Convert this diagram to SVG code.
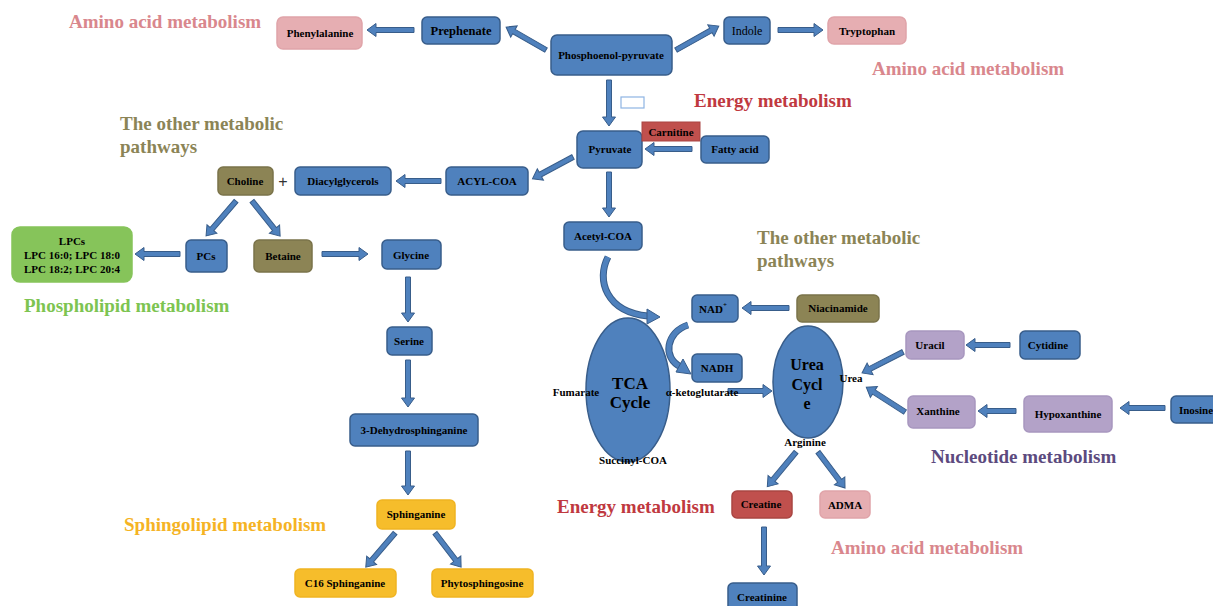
<svg xmlns="http://www.w3.org/2000/svg" width="1213" height="606" viewBox="0 0 1213 606">
<style>
.n{stroke-width:1.5;}
.b{fill:#4f81bd;stroke:#385d8a;}
.pk{fill:#e6aeb2;stroke:#e0a4a9;}
.ol{fill:#8c8455;stroke:#7a734a;}
.gr{fill:#86c45a;stroke:#86c45a;}
.ye{fill:#f6bd2b;stroke:#f0b422;}
.pu{fill:#b3a2c8;stroke:#a897bf;}
.rd{fill:#c0504d;stroke:#a94542;}
.t{font-family:"Liberation Serif","Times New Roman",serif;font-weight:bold;font-size:11px;fill:#000;text-anchor:middle;dominant-baseline:central;}
.lab{font-family:"Liberation Serif","Times New Roman",serif;font-weight:bold;font-size:19px;}
.a{fill:#4f81bd;stroke:#385d8a;stroke-width:1;}
.cs{fill:none;stroke:#385d8a;stroke-width:7;}
.ci{fill:none;stroke:#4f81bd;stroke-width:5;}
</style>

<!-- labels -->
<g id="labels">
<text class="lab" x="69" y="28" fill="#d9878d">Amino acid metabolism</text>
<text class="lab" x="872" y="75" fill="#d9878d">Amino acid metabolism</text>
<text class="lab" x="831" y="554" fill="#d9878d">Amino acid metabolism</text>
<text class="lab" x="694" y="107" fill="#c0393f">Energy metabolism</text>
<text class="lab" x="557" y="513" fill="#c0393f">Energy metabolism</text>
<text class="lab" x="120" y="130" fill="#8b8456">The other metabolic</text>
<text class="lab" x="120" y="153" fill="#8b8456">pathways</text>
<text class="lab" x="757" y="244" fill="#8b8456">The other metabolic</text>
<text class="lab" x="757" y="267" fill="#8b8456">pathways</text>
<text class="lab" x="24" y="312" fill="#7dc451">Phospholipid metabolism</text>
<text class="lab" x="124" y="531" fill="#f5b324">Sphingolipid metabolism</text>
<text class="lab" x="931" y="463" fill="#5c4a7e">Nucleotide metabolism</text>
<rect x="621" y="97" width="23" height="11" fill="none" stroke="#8eb4e3" stroke-width="1.2"/>
</g>

<!-- connectors -->
<g id="connectors">
<path class="a" transform="translate(546,50) rotate(209.9)" d="M0,-2.5 H37 V-6.5 L46,0 L37,6.5 V2.5 H0 Z"/>
<path class="a" transform="translate(414,30) rotate(180)" d="M0,-2.5 H38 V-6.5 L47,0 L38,6.5 V2.5 H0 Z"/>
<path class="a" transform="translate(676,50) rotate(-29.2)" d="M0,-2.5 H40 V-6.5 L49,0 L40,6.5 V2.5 H0 Z"/>
<path class="a" transform="translate(778,30)" d="M0,-2.5 H36 V-6.5 L45,0 L36,6.5 V2.5 H0 Z"/>
<path class="a" transform="translate(609,80) rotate(90)" d="M0,-2.5 H37 V-6.5 L46,0 L37,6.5 V2.5 H0 Z"/>
<path class="a" transform="translate(609,172) rotate(90)" d="M0,-2.5 H36 V-6.5 L45,0 L36,6.5 V2.5 H0 Z"/>
<path class="a" transform="translate(692,149) rotate(180)" d="M0,-2.5 H38 V-6.5 L47,0 L38,6.5 V2.5 H0 Z"/>
<path class="a" transform="translate(573,157) rotate(151.8)" d="M0,-2.5 H37 V-6.5 L46,0 L37,6.5 V2.5 H0 Z"/>
<path class="a" transform="translate(441,181) rotate(180)" d="M0,-2.5 H36 V-6.5 L45,0 L36,6.5 V2.5 H0 Z"/>
<path class="a" transform="translate(236,201) rotate(130.6)" d="M0,-2.5 H37 V-6.5 L46,0 L37,6.5 V2.5 H0 Z"/>
<path class="a" transform="translate(252,201) rotate(51.3)" d="M0,-2.5 H36 V-6.5 L45,0 L36,6.5 V2.5 H0 Z"/>
<path class="a" transform="translate(180,254) rotate(180)" d="M0,-2.5 H36 V-6.5 L45,0 L36,6.5 V2.5 H0 Z"/>
<path class="a" transform="translate(322,254)" d="M0,-2.5 H37 V-6.5 L46,0 L37,6.5 V2.5 H0 Z"/>
<path class="a" transform="translate(408,277) rotate(90)" d="M0,-2.5 H36 V-6.5 L45,0 L36,6.5 V2.5 H0 Z"/>
<path class="a" transform="translate(408,360) rotate(90)" d="M0,-2.5 H38 V-6.5 L47,0 L38,6.5 V2.5 H0 Z"/>
<path class="a" transform="translate(408,451) rotate(90)" d="M0,-2.5 H35 V-6.5 L44,0 L35,6.5 V2.5 H0 Z"/>
<path class="a" transform="translate(395,533) rotate(130.5)" d="M0,-2.5 H36 V-6.5 L45,0 L36,6.5 V2.5 H0 Z"/>
<path class="a" transform="translate(435,533) rotate(52.6)" d="M0,-2.5 H34 V-6.5 L43,0 L34,6.5 V2.5 H0 Z"/>
<path class="a" transform="translate(789,308) rotate(180)" d="M0,-2.5 H38 V-6.5 L47,0 L38,6.5 V2.5 H0 Z"/>
<path class="a" transform="translate(728,391)" d="M0,-2.5 H35 V-6.5 L44,0 L35,6.5 V2.5 H0 Z"/>
<path class="a" transform="translate(903,352) rotate(152.9)" d="M0,-2.5 H37 V-6.5 L46,0 L37,6.5 V2.5 H0 Z"/>
<path class="a" transform="translate(905,412) rotate(212.7)" d="M0,-2.5 H37 V-6.5 L46,0 L37,6.5 V2.5 H0 Z"/>
<path class="a" transform="translate(1010,345) rotate(180)" d="M0,-2.5 H35 V-6.5 L44,0 L35,6.5 V2.5 H0 Z"/>
<path class="a" transform="translate(1016,411) rotate(180)" d="M0,-2.5 H29 V-6.5 L38,0 L29,6.5 V2.5 H0 Z"/>
<path class="a" transform="translate(1165,408) rotate(180)" d="M0,-2.5 H36 V-6.5 L45,0 L36,6.5 V2.5 H0 Z"/>
<path class="a" transform="translate(796,452) rotate(129.6)" d="M0,-2.5 H36 V-6.5 L45,0 L36,6.5 V2.5 H0 Z"/>
<path class="a" transform="translate(818,452) rotate(53.1)" d="M0,-2.5 H36 V-6.5 L45,0 L36,6.5 V2.5 H0 Z"/>
<path class="a" transform="translate(764,527) rotate(90)" d="M0,-2.5 H39 V-6.5 L48,0 L39,6.5 V2.5 H0 Z"/>
<!-- curved arrows -->
<path class="cs" d="M608,257 C596,280 606,312 648,316"/>
<path class="ci" d="M608,257 C596,280 606,312 648,316"/>
<path class="a" d="M647,309 L660,317 L647,324 Z"/>
<path class="cs" d="M688,325 C666,332 662,358 681,367"/>
<path class="ci" d="M688,325 C666,332 662,358 681,367"/>
<path class="a" d="M683,359 L691,374 L676,372 Z"/>
</g>

<!-- nodes -->
<g id="phenylalanine"><rect class="n pk" x="277" y="17" width="85" height="32" rx="6"/><text class="t" x="320" y="33">Phenylalanine</text></g>
<g id="prephenate"><rect class="n b" x="422" y="17" width="78" height="27" rx="5"/><text class="t" x="461" y="31" style="font-size:12.5px">Prephenate</text></g>
<g id="pep"><rect class="n b" x="551" y="35" width="121" height="40" rx="6"/><text class="t" x="611" y="55">Phosphoenol-pyruvate</text></g>
<g id="indole"><rect class="n b" x="724" y="17" width="46" height="27" rx="5"/><text class="t" x="747" y="31" style="font-weight:normal;font-size:12px">Indole</text></g>
<g id="tryptophan"><rect class="n pk" x="828" y="17" width="78" height="27" rx="6"/><text class="t" x="867" y="31">Tryptophan</text></g>
<g id="pyruvate"><rect class="n b" x="577" y="131" width="65" height="37" rx="6"/><text class="t" x="610" y="149">Pyruvate</text></g>
<g id="carnitine"><rect class="rd" x="642" y="122" width="58" height="19"/><text class="t" x="671" y="132">Carnitine</text></g>
<g id="fattyacid"><rect class="n b" x="701" y="136" width="68" height="27" rx="5"/><text class="t" x="735" y="149">Fatty acid</text></g>
<g id="acylcoa"><rect class="n b" x="446" y="167" width="82" height="28" rx="5"/><text class="t" x="487" y="181">ACYL-COA</text></g>
<g id="diacylglycerols"><rect class="n b" x="295" y="167" width="96" height="28" rx="5"/><text class="t" x="343" y="181">Diacylglycerols</text></g>
<g id="choline"><rect class="n ol" x="218" y="167" width="55" height="28" rx="5"/><text class="t" x="245" y="181">Choline</text></g>
<text x="283" y="187" font-family="Liberation Sans, Arial, sans-serif" font-size="16" fill="#333" text-anchor="middle">+</text>
<g id="lpcs"><rect class="n gr" x="12" y="227" width="120" height="55" rx="8"/>
<text class="t" x="72" y="241">LPCs</text><text class="t" x="72" y="255">LPC 16:0; LPC 18:0</text><text class="t" x="72" y="269">LPC 18:2; LPC 20:4</text></g>
<g id="pcs"><rect class="n b" x="186" y="240" width="41" height="32" rx="5"/><text class="t" x="206" y="256">PCs</text></g>
<g id="betaine"><rect class="n ol" x="254" y="240" width="58" height="32" rx="5"/><text class="t" x="283" y="256">Betaine</text></g>
<g id="glycine"><rect class="n b" x="382" y="240" width="59" height="29" rx="5"/><text class="t" x="411" y="255">Glycine</text></g>
<g id="serine"><rect class="n b" x="387" y="327" width="45" height="28" rx="5"/><text class="t" x="409" y="341">Serine</text></g>
<g id="dehydrosphinganine"><rect class="n b" x="350" y="414" width="128" height="32" rx="5"/><text class="t" x="414" y="430">3-Dehydrosphinganine</text></g>
<g id="sphinganine"><rect class="n ye" x="377" y="500" width="78" height="29" rx="5"/><text class="t" x="416" y="514">Sphinganine</text></g>
<g id="c16sphinganine"><rect class="n ye" x="295" y="569" width="101" height="28" rx="5"/><text class="t" x="345" y="583">C16 Sphinganine</text></g>
<g id="phytosphingosine"><rect class="n ye" x="432" y="569" width="101" height="28" rx="5"/><text class="t" x="482" y="583">Phytosphingosine</text></g>
<g id="acetylcoa"><rect class="n b" x="564" y="222" width="78" height="28" rx="5"/><text class="t" x="603" y="236">Acetyl-COA</text></g>
<g id="nadplus"><rect class="n b" x="692" y="295" width="46" height="27" rx="5"/><text class="t" x="713" y="309">NAD<tspan dy="-4" font-size="7">+</tspan></text></g>
<g id="nadh"><rect class="n b" x="692" y="354" width="50" height="28" rx="5"/><text class="t" x="717" y="368">NADH</text></g>
<g id="niacinamide"><rect class="n ol" x="797" y="295" width="82" height="27" rx="5"/><text class="t" x="838" y="308">Niacinamide</text></g>
<g id="tca"><ellipse class="n b" cx="628" cy="390" rx="42" ry="72"/>
<text class="t" x="630" y="383" style="font-size:17px">TCA</text><text class="t" x="630" y="402" style="font-size:17px">Cycle</text>
<text class="t" x="576" y="392">Fumarate</text><text class="t" x="702" y="392">α-ketoglutarate</text><text class="t" x="633" y="460">Succinyl-COA</text></g>
<g id="urea"><ellipse class="n b" cx="808" cy="382" rx="35" ry="56"/>
<text class="t" x="807" y="364" style="font-size:16px">Urea</text><text class="t" x="807" y="384" style="font-size:16px">Cycl</text><text class="t" x="807" y="403" style="font-size:16px">e</text>
<text class="t" x="851" y="378">Urea</text><text class="t" x="805" y="442">Arginine</text></g>
<g id="uracil"><rect class="n pu" x="906" y="331" width="58" height="28" rx="5"/><text class="t" x="930" y="345">Uracil</text></g>
<g id="cytidine"><rect class="n b" x="1020" y="331" width="60" height="28" rx="5"/><text class="t" x="1048" y="345">Cytidine</text></g>
<g id="xanthine"><rect class="n pu" x="908" y="396" width="67" height="32" rx="5"/><text class="t" x="938" y="411">Xanthine</text></g>
<g id="hypoxanthine"><rect class="n pu" x="1024" y="396" width="88" height="36" rx="5"/><text class="t" x="1068" y="414">Hypoxanthine</text></g>
<g id="inosine"><rect class="n b" x="1171" y="396" width="50" height="27" rx="5"/><text class="t" x="1196" y="410">Inosine</text></g>
<g id="creatine"><rect class="n rd" x="732" y="491" width="60" height="27" rx="5"/><text class="t" x="761" y="504">Creatine</text></g>
<g id="adma"><rect class="n pk" x="820" y="491" width="50" height="27" rx="5"/><text class="t" x="845" y="505">ADMA</text></g>
<g id="creatinine"><rect class="n b" x="728" y="583" width="69" height="30" rx="5"/><text class="t" x="762" y="597">Creatinine</text></g>
</svg>
